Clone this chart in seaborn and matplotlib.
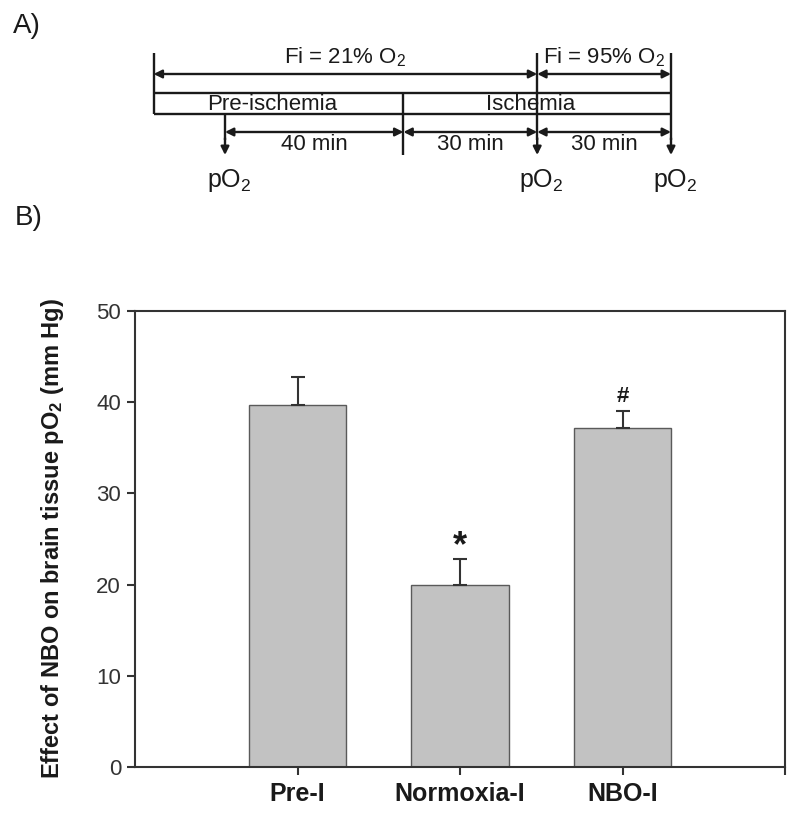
import matplotlib.pyplot as plt
import seaborn as sns
import numpy as np

# panel B data
groups = ["Pre-I", "Normoxia-I", "NBO-I"]
po2_mean = [39.7, 20.0, 37.2]
po2_sem = [3.1, 2.8, 1.8]
marks = ["", "*", "#"]

# panel A protocol (minutes, baseline pO2 at t=0)
phase_names = ["Pre-ischemia", "Ischemia"]
phase_edges = [-16, 40, 100]
po2_times = [0, 70, 100]
interval_labels = ["40 min", "30 min", "30 min"]
interval_edges = [0, 40, 70, 100]
fio2_labels = ["Fi = 21% O$_2$", "Fi = 95% O$_2$"]
fio2_edges = [-16, 70, 100]

sns.set_theme(style="ticks")
plt.rcParams["font.family"] = ["Liberation Sans", "DejaVu Sans"]
plt.rcParams["mathtext.fontset"] = "custom"
plt.rcParams["mathtext.rm"] = "Liberation Sans"
plt.rcParams["mathtext.bf"] = "Liberation Sans:bold"
plt.rcParams["mathtext.it"] = "Liberation Sans:italic"

ink = "#1a1a1a"
fig = plt.figure(figsize=(8, 8.13), dpi=100)

# ---- panel A: timeline diagram (x in minutes, y in pixel rows)
axa = fig.add_axes([0, 1 - 200 / 813, 1, 200 / 813])
px_per_min = 4.46
axa.set_xlim(-225 / px_per_min, (800 - 225) / px_per_min)
axa.set_ylim(200, 0)
axa.axis("off")
lw = 1.7
arrow_kw = dict(arrowstyle="<|-|>", color=ink, lw=lw, mutation_scale=12,
                shrinkA=0, shrinkB=0)
down_kw = dict(arrowstyle="-|>", color=ink, lw=lw, mutation_scale=12,
               shrinkA=0, shrinkB=0)

# box
axa.hlines([93, 114], phase_edges[0], phase_edges[-1], color=ink, lw=lw)
axa.vlines(phase_edges[0], 53, 114, color=ink, lw=lw)
axa.vlines(phase_edges[1], 93, 155, color=ink, lw=lw)
for i, name in enumerate(phase_names):
    axa.text((phase_edges[i] + phase_edges[i + 1]) / 2 - 1.5, 104, name,
             ha="center", va="center", fontsize=16, color=ink)

# FiO2 arrows
for i, lab in enumerate(fio2_labels):
    axa.annotate("", xy=(fio2_edges[i], 74), xytext=(fio2_edges[i + 1], 74),
                 arrowprops=arrow_kw)
    axa.text((fio2_edges[i] + fio2_edges[i + 1]) / 2, 57, lab,
             ha="center", va="center", fontsize=16, color=ink)

# interval arrows
for i, lab in enumerate(interval_labels):
    axa.annotate("", xy=(interval_edges[i], 132), xytext=(interval_edges[i + 1], 132),
                 arrowprops=arrow_kw)
    axa.text((interval_edges[i] + interval_edges[i + 1]) / 2, 145, lab,
             ha="center", va="center", fontsize=16, color=ink)

# pO2 measurement arrows
for j, t in enumerate(po2_times):
    top = 114 if j == 0 else 53
    axa.vlines(t, top, 140, color=ink, lw=lw)
    axa.annotate("", xy=(t, 155), xytext=(t, 138), arrowprops=down_kw)
    axa.text(t + 1, 181, "pO$_2$", ha="center", va="center", fontsize=18, color=ink)

fig.text(13 / 800, 1 - 26 / 813, "A)", ha="left", va="center", fontsize=20, color=ink)
fig.text(15 / 800, 1 - 218 / 813, "B)", ha="left", va="center", fontsize=20, color=ink)

# ---- panel B: bar chart
ax = fig.add_axes([135 / 800, 46 / 813, 650 / 800, 456 / 813])
sns.barplot(x=groups, y=po2_mean, color="#c2c2c2", edgecolor="#5a5a5a",
            linewidth=1.0, width=0.6, saturation=1, ax=ax)
pos = np.arange(len(groups))
ax.errorbar(pos, po2_mean, yerr=[np.zeros(len(groups)), po2_sem], fmt="none",
            ecolor="#333333", elinewidth=1.5, capsize=4.8, capthick=1.5)
for x, m, e, s in zip(pos, po2_mean, po2_sem, marks):
    if s == "*":
        ax.text(x, m + e - 0.6, s, ha="center", va="bottom", fontsize=26,
                fontweight="bold", color=ink)
    elif s:
        ax.text(x, m + e + 0.5, s, ha="center", va="bottom", fontsize=16,
                fontweight="bold", color=ink)

ax.set_xlim(-1, 3)
ax.set_ylim(0, 50)
ax.set_yticks(range(0, 51, 10))
ax.set_xticks([3], minor=True)
for sp in ax.spines.values():
    sp.set_visible(True)
    sp.set_color("#333333")
    sp.set_linewidth(1.5)
ax.tick_params(axis="both", which="both", direction="out", length=6, width=1.5,
               color="#333333")
ax.tick_params(axis="y", labelsize=16, labelcolor="#333333", pad=4)
ax.tick_params(axis="x", labelsize=18, labelcolor=ink, pad=5)
for lab in ax.get_xticklabels():
    lab.set_fontweight("bold")
ax.set_ylabel(r"Effect of NBO on brain tissue pO$_\mathbf{2}$ (mm Hg)",
              fontsize=17, fontweight="bold", color=ink, labelpad=22)

fig.savefig("out.png", dpi=100, facecolor="white")
plt.close(fig)
